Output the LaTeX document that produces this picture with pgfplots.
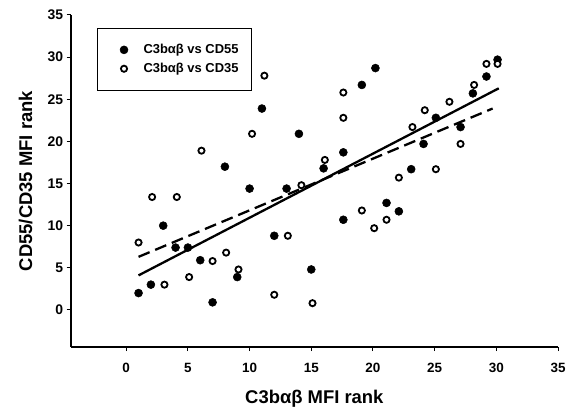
\documentclass[border=0pt]{standalone}
\usepackage{fontspec}
\setmainfont{Liberation Sans}
\usepackage{pgfplots}
\pgfplotsset{compat=1.18}
\begin{document}
\begin{tikzpicture}
\begin{axis}[
  scale only axis, width=487.3bp, height=332bp,
  xmin=-4.5, xmax=35, ymin=-4.4, ymax=35,
  axis x line*=bottom, axis y line*=left,
  axis line style={line width=1.7bp},
  xtick={0,5,...,35}, ytick={0,5,...,35},
  tick align=outside, major tick length=4bp,
  tick style={line width=1bp, black},
  /pgf/number format/assume math mode=true,
  xticklabel style={font=\fontsize{13.5}{14}\selectfont\bfseries, yshift=-9bp},
  yticklabel style={font=\fontsize{14}{15}\selectfont\bfseries, xshift=0bp},
  xlabel={C3bαβ MFI rank}, ylabel={CD55/CD35 MFI rank},
  label style={font=\fontsize{18.5}{20}\selectfont\bfseries},
  xlabel style={at={(axis description cs:0.5,-0.170)}, anchor=base},
  ylabel style={at={(axis description cs:-0.0794,0.5)}, anchor=base},
  legend style={at={(axis description cs:0.054,0.961)}, anchor=north west,
    draw=black, line width=1bp, inner xsep=11bp, inner ysep=14bp,
    font=\fontsize{13}{14}\selectfont\bfseries, row sep=4bp, cells={anchor=west}},
  legend image code/.code={\path (0bp,0bp) (32bp,0bp);
    \draw[#1] plot coordinates {(15bp,0bp)};},
]
\coordinate (O) at (rel axis cs:0,0);

% C3bab vs CD55
\addplot[only marks, mark=*, mark size=4bp, mark options={draw=black, fill=black, line width=0.5bp}]
coordinates {(1,2) (2,3) (3,10) (4,7.4) (5,7.4) (6,5.9) (7,0.9) (8,17) (9,3.9)
  (10,14.4) (11,23.9) (12,8.8) (13,14.4) (14,20.9) (15,4.8) (16,16.8) (17.6,18.7)
  (17.6,10.7) (19.1,26.7) (20.2,28.7) (21.1,12.7) (22.1,11.7) (23.1,16.7)
  (24.1,19.7) (25.1,22.8) (27.1,21.7) (28.1,25.7) (29.2,27.7) (30.1,29.7)};
\addlegendentry{C3bαβ vs CD55\hspace{6bp}}

% C3bab vs CD35
\addplot[only marks, mark=*, mark size=3.1bp, mark options={draw=black, fill=white, line width=1.8bp}]
coordinates {(1,8) (2.1,13.4) (3.1,3) (4.1,13.4) (5.1,3.9) (6.1,18.9) (7,5.8)
  (8.1,6.8) (9.1,4.8) (10.2,20.9) (11.2,27.8) (12,1.8) (13.1,8.8) (14.2,14.8)
  (15.1,0.8) (16.1,17.8) (17.6,22.8) (17.6,25.8) (19.1,11.8) (20.1,9.7)
  (21.1,10.7) (22.1,15.7) (23.2,21.7) (24.2,23.7) (25.1,16.7) (26.2,24.7)
  (27.1,19.7) (28.2,26.7) (29.2,29.2) (30.1,29.2)};
\addlegendentry{C3bαβ vs CD35\hspace{6bp}}

% fitted lines
\addplot[black, line width=2.3bp, forget plot] coordinates {(1,4.1) (30.2,26.3)};
\addplot[black, line width=2.3bp, dash pattern=on 12bp off 6bp, forget plot]
  coordinates {(1,6.3) (29.7,23.9)};
\end{axis}
\pgfresetboundingbox
\path[use as bounding box] (O) ++(-70.7bp,-65bp) rectangle ++(568bp,412bp);
\end{tikzpicture}
\end{document}
